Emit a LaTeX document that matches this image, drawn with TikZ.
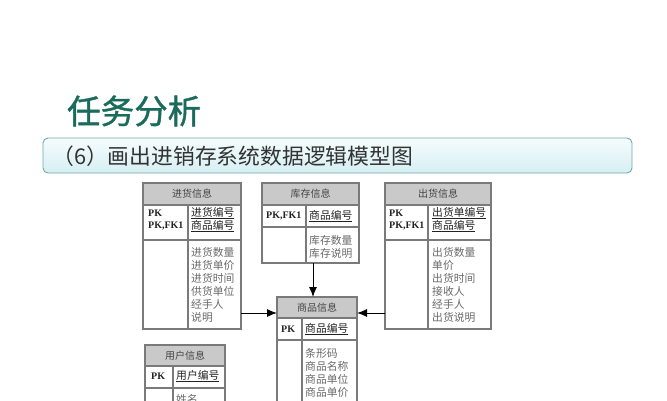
\documentclass[tikz,border=0pt]{standalone}
\usepackage{fontspec}
\setmainfont{Liberation Serif}
\newfontfamily\cjk{Noto Sans CJK SC}
\newfontfamily\cjkb[FakeBold=1.2]{Noto Sans CJK SC}
\usetikzlibrary{arrows.meta}
\definecolor{titlecol}{HTML}{1B6B5C}
\definecolor{bandline}{HTML}{6FA7AE}
\definecolor{bandtop}{HTML}{F5FCFD}
\definecolor{bandbot}{HTML}{D6EFF3}
\definecolor{tline}{HTML}{7A7A7A}
\definecolor{hfill}{HTML}{C9C9C9}
\definecolor{htxt}{HTML}{444444}
\definecolor{atxt}{HTML}{6A6A6A}
\definecolor{ktxt}{HTML}{222222}
\begin{document}
\begin{tikzpicture}[x=1pt,y=-1pt,
  tbl/.style={draw=tline, line width=1.1pt},
  htext/.style={font=\cjk\fontsize{10}{10}\selectfont, text=htxt, inner sep=0},
  keytext/.style={font=\bfseries\fontsize{10}{10}\selectfont, text=ktxt, anchor=west, inner sep=0},
  pktext/.style={font=\cjk\fontsize{10.8}{10}\selectfont, text=ktxt, anchor=west, inner sep=0},
  attr/.style={font=\cjk\fontsize{10.8}{10}\selectfont, text=atxt, anchor=west, inner sep=0},
  rel/.style={draw=black, line width=1pt, -{Latex[length=10pt,width=8pt]}}]
\useasboundingbox (0,0) rectangle (667,400);
\fill[white] (0,0) rectangle (667,400);
% title
\node[font=\cjkb\fontsize{33.5}{36}\selectfont, text=titlecol, anchor=west, inner sep=0] (title) at (67,111) {任务分析};
% band
\shade[top color=bandtop, bottom color=bandbot, draw=bandline, line width=0.9pt, rounded corners=5pt] (43,138) rectangle (632,173);
\node[font=\cjk\fontsize{21.8}{24}\selectfont, text=black!80, anchor=west, inner sep=0] (sub) at (52,156) {（6）画出进销存系统数据逻辑模型图};

\begin{scope}
\clip (0,0) rectangle (667,400);
% ---------- 进货信息
\fill[hfill] (143,183) rectangle (241,205);
\draw[tbl] (143,183) rectangle (241,329);
\draw[tbl] (143,205) -- (241,205) (143,240) -- (241,240) (188,205) -- (188,329);
\node[htext] (jh) at (192,194) {进货信息};
\node[keytext] (jk1) at (148,213) {PK};
\node[keytext] (jk2) at (148,226) {PK,FK1};
\node[pktext] (jp1) at (191,213) {\underline{进货编号}};
\node[pktext] (jp2) at (191,226) {\underline{商品编号}};
\foreach \t [count=\i] in {进货数量,进货单价,进货时间,供货单位,经手人,说明}
  \node[attr] (ja\i) at (191,239+13*\i) {\t};
\coordinate (jE) at (241,313);
% ---------- 库存信息
\fill[hfill] (262,183) rectangle (359,205);
\draw[tbl] (262,183) rectangle (359,263);
\draw[tbl] (262,205) -- (359,205) (262,227) -- (359,227) (306,205) -- (306,263);
\node[htext] (kh) at (310.5,194) {库存信息};
\node[keytext] (kk1) at (266,216) {PK,FK1};
\node[pktext] (kp1) at (309,216) {\underline{商品编号}};
\node[attr] (ka1) at (309,240) {库存数量};
\node[attr] (ka2) at (309,253) {库存说明};
\coordinate (kS) at (313,263);
% ---------- 出货信息
\fill[hfill] (385,183) rectangle (491,205);
\draw[tbl] (385,183) rectangle (491,329);
\draw[tbl] (385,205) -- (491,205) (385,240) -- (491,240) (428,205) -- (428,329);
\node[htext] (ch) at (438,194) {出货信息};
\node[keytext] (ck1) at (389,213) {PK};
\node[keytext] (ck2) at (389,226) {PK,FK1};
\node[pktext] (cp1) at (432,213) {\underline{出货单编号}};
\node[pktext] (cp2) at (432,226) {\underline{商品编号}};
\foreach \t [count=\i] in {出货数量,单价,出货时间,接收人,经手人,出货说明}
  \node[attr] (ca\i) at (432,239+13*\i) {\t};
\coordinate (cW) at (385,313);
% ---------- 商品信息
\fill[hfill] (277,297) rectangle (357,318);
\draw[tbl] (277,297) rectangle (357,420);
\draw[tbl] (277,318) -- (357,318) (277,340) -- (357,340) (302,318) -- (302,420);
\node[htext] (sh) at (317,307.5) {商品信息};
\node[keytext] (sk1) at (281,329) {PK};
\node[pktext] (sp1) at (305,329) {\underline{商品编号}};
\foreach \t [count=\i] in {条形码,商品名称,商品单位,商品单价}
  \node[attr] (sa\i) at (305,340+13*\i) {\t};
\coordinate (sN) at (313,297);
\coordinate (sW) at (277,313);
\coordinate (sE) at (357,313);
% ---------- 用户信息
\fill[hfill] (145,345) rectangle (225,366);
\draw[tbl] (145,345) rectangle (225,420);
\draw[tbl] (145,366) -- (225,366) (145,388) -- (225,388) (173,366) -- (173,420);
\node[htext] (uh) at (185,355.5) {用户信息};
\node[keytext] (uk1) at (151,376) {PK};
\node[pktext] (up1) at (176,376) {\underline{用户编号}};
\node[attr] (ua1) at (176,399) {姓名};
\end{scope}
% relations
\draw[rel] (jE) -- (sW);
\draw[rel] (kS) -- (sN);
\draw[rel] (cW) -- (sE);
\end{tikzpicture}
\end{document}
